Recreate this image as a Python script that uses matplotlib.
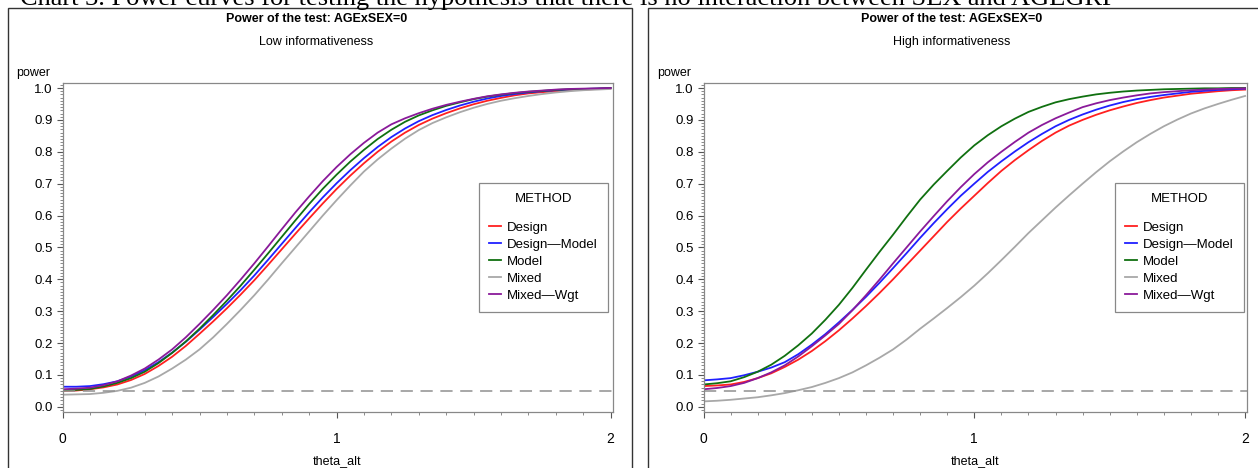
import matplotlib.pyplot as plt
from matplotlib.patches import Rectangle
from matplotlib.ticker import MultipleLocator, FormatStrFormatter

plt.rcParams["font.family"] = ["Liberation Sans", "DejaVu Sans"]

theta = [0.00, 0.05, 0.10, 0.15, 0.20, 0.25, 0.30, 0.35, 0.40, 0.45,
         0.50, 0.55, 0.60, 0.65, 0.70, 0.75, 0.80, 0.85, 0.90, 0.95,
         1.00, 1.05, 1.10, 1.15, 1.20, 1.25, 1.30, 1.35, 1.40, 1.45,
         1.50, 1.55, 1.60, 1.65, 1.70, 1.75, 1.80, 1.85, 1.90, 1.95, 2.00]

methods = ["Design", "Design\u2014Model", "Model", "Mixed", "Mixed\u2014Wgt"]
colors = ["#ff2020", "#2020ff", "#107010", "#a8a8a8", "#8a1a9a"]

# low informativeness
low_design = [.050, .051, .055, .061, .070, .084, .103, .128, .157, .191,
              .229, .268, .309, .352, .397, .445, .494, .543, .591, .638,
              .683, .725, .764, .800, .832, .860, .884, .904, .921, .936,
              .949, .960, .969, .977, .983, .987, .990, .993, .995, .997, .999]
low_design_model = [.063, .063, .065, .071, .080, .095, .115, .140, .170, .204,
                    .242, .282, .323, .366, .412, .461, .511, .561, .610, .657,
                    .701, .742, .780, .815, .846, .873, .896, .915, .931, .945,
                    .957, .967, .975, .981, .986, .990, .993, .995, .997, .998, 1.0]
low_model = [.052, .053, .056, .064, .075, .090, .110, .137, .169, .205,
             .245, .288, .333, .380, .430, .481, .533, .585, .636, .684,
             .728, .769, .806, .840, .869, .894, .914, .930, .944, .955,
             .965, .973, .979, .984, .988, .991, .994, .996, .997, .998, 1.0]
low_mixed = [.038, .039, .040, .044, .050, .060, .075, .095, .120, .148,
             .180, .218, .260, .304, .350, .399, .450, .500, .550, .600,
             .648, .694, .738, .776, .810, .841, .868, .890, .908, .924,
             .938, .950, .960, .968, .975, .981, .986, .990, .993, .995, .997]
low_mixed_wgt = [.055, .057, .060, .068, .080, .098, .120, .148, .180, .218,
                 .260, .304, .350, .399, .450, .503, .557, .610, .660, .708,
                 .752, .792, .828, .860, .886, .905, .921, .935, .947, .957,
                 .966, .974, .980, .985, .989, .992, .995, .997, .998, .999, 1.0]

# high informativeness
high_design = [.065, .067, .070, .078, .090, .105, .125, .148, .175, .206,
               .240, .277, .316, .357, .400, .445, .490, .535, .580, .622,
               .662, .702, .740, .774, .805, .834, .860, .882, .900, .916,
               .930, .942, .953, .962, .970, .976, .982, .986, .990, .993, .995]
high_design_model = [.083, .086, .090, .099, .110, .123, .140, .165, .195, .228,
                     .265, .304, .345, .389, .435, .482, .530, .576, .620, .662,
                     .700, .737, .770, .801, .830, .856, .880, .900, .917, .932,
                     .945, .956, .965, .972, .978, .983, .988, .991, .994, .996, .998]
high_model = [.070, .074, .080, .093, .110, .132, .160, .193, .230, .273,
              .320, .373, .430, .486, .540, .596, .650, .697, .740, .782,
              .820, .852, .880, .904, .925, .941, .955, .965, .973, .980,
              .985, .989, .992, .994, .996, .997, .998, .999, .999, 1.0, 1.0]
high_mixed = [.017, .019, .022, .026, .030, .036, .043, .052, .062, .075,
              .090, .108, .130, .154, .180, .211, .245, .277, .310, .344,
              .380, .419, .460, .502, .545, .585, .625, .663, .700, .736,
              .770, .801, .830, .856, .880, .901, .920, .936, .950, .963, .975]
high_mixed_wgt = [.055, .059, .065, .075, .090, .108, .130, .158, .190, .224,
                  .260, .303, .350, .399, .450, .500, .550, .598, .645, .689,
                  .730, .767, .800, .831, .860, .884, .905, .923, .940, .952,
                  .962, .970, .977, .983, .987, .990, .993, .995, .997, .998, .999]

alpha_level = 0.05

panels = [
    ("Low informativeness",
     [low_design, low_design_model, low_model, low_mixed, low_mixed_wgt]),
    ("High informativeness",
     [high_design, high_design_model, high_model, high_mixed, high_mixed_wgt]),
]

W, H = 1258, 468
fig = plt.figure(figsize=(W / 100, H / 100), dpi=100)

# caption above the panels, cut at the top edge as in the source scan
caption = ("Chart 3. Power curves for testing the hypothesis that there is no "
           "interaction between SEX and AGEGRP")
fig.text(568 / W, 1 - 5 / H, caption, ha="center", va="baseline",
         fontsize=19, family=["Liberation Serif", "DejaVu Serif"])

# (box left, box right, axes left, axes right) in pixels
layout = [(8, 632, 62.5, 612.5), (648, 1262, 703.5, 1247)]

for (subtitle, series), (bl, br, al, ar) in zip(panels, layout):
    fig.patches.append(Rectangle((bl / W, -0.1), (br - bl) / W, 1.1 - 8 / H,
                                 transform=fig.transFigure, fill=False,
                                 edgecolor="#333333", lw=1.0))
    cx = (bl + br) / 2 / W - 0.003
    fig.text(cx, 1 - 19 / H, "Power of the test: AGExSEX=0", ha="center",
             va="center", fontsize=9, fontweight="bold")
    fig.text(cx, 1 - 42 / H, subtitle, ha="center", va="center", fontsize=9)

    ax = fig.add_axes([al / W, (H - 411.5) / H, (ar - al) / W, (411.5 - 83) / H])
    for label, values, color in zip(methods, series, colors):
        ax.plot(theta, values, color=color, lw=1.3, label=label)
    ax.axhline(alpha_level, color="#909090", lw=1.1, dashes=(8, 5))

    ax.set_xlim(0, 2.007)
    ax.set_ylim(-0.0147, 1.0157)
    ax.xaxis.set_major_locator(MultipleLocator(1))
    ax.xaxis.set_minor_locator(MultipleLocator(0.1))
    ax.yaxis.set_major_locator(MultipleLocator(0.1))
    ax.yaxis.set_minor_locator(MultipleLocator(0.01))
    ax.yaxis.set_major_formatter(FormatStrFormatter("%.1f"))
    ax.tick_params(which="major", length=4, width=0.8, color="#555555",
                   labelsize=9.5, pad=3)
    ax.tick_params(which="minor", length=2.5, width=0.6, color="#777777")
    ax.tick_params(axis="x", which="major", pad=11, labelsize=10)
    for s in ax.spines.values():
        s.set_color("#888888")
        s.set_linewidth(0.9)
    ax.set_xlabel("theta_alt", fontsize=9, labelpad=6)
    ax.text(-0.085, 1.03, "power", transform=ax.transAxes, fontsize=9,
            ha="left", va="center")

    leg = ax.legend(loc="upper right",
                    bbox_to_anchor=((br - (24 if bl < 600 else 18)) / W, (H - 183) / H),
                    bbox_transform=fig.transFigure, title="METHOD",
                    fontsize=9.5, title_fontsize=9.5, handlelength=0.9,
                    handletextpad=0.5, labelspacing=0.36, borderpad=0.75,
                    fancybox=False, framealpha=1, borderaxespad=0)
    leg.get_frame().set_edgecolor("#888888")
    leg.get_frame().set_linewidth(0.9)
    leg._legend_box.sep = 12

fig.savefig("out.png", dpi=100)
